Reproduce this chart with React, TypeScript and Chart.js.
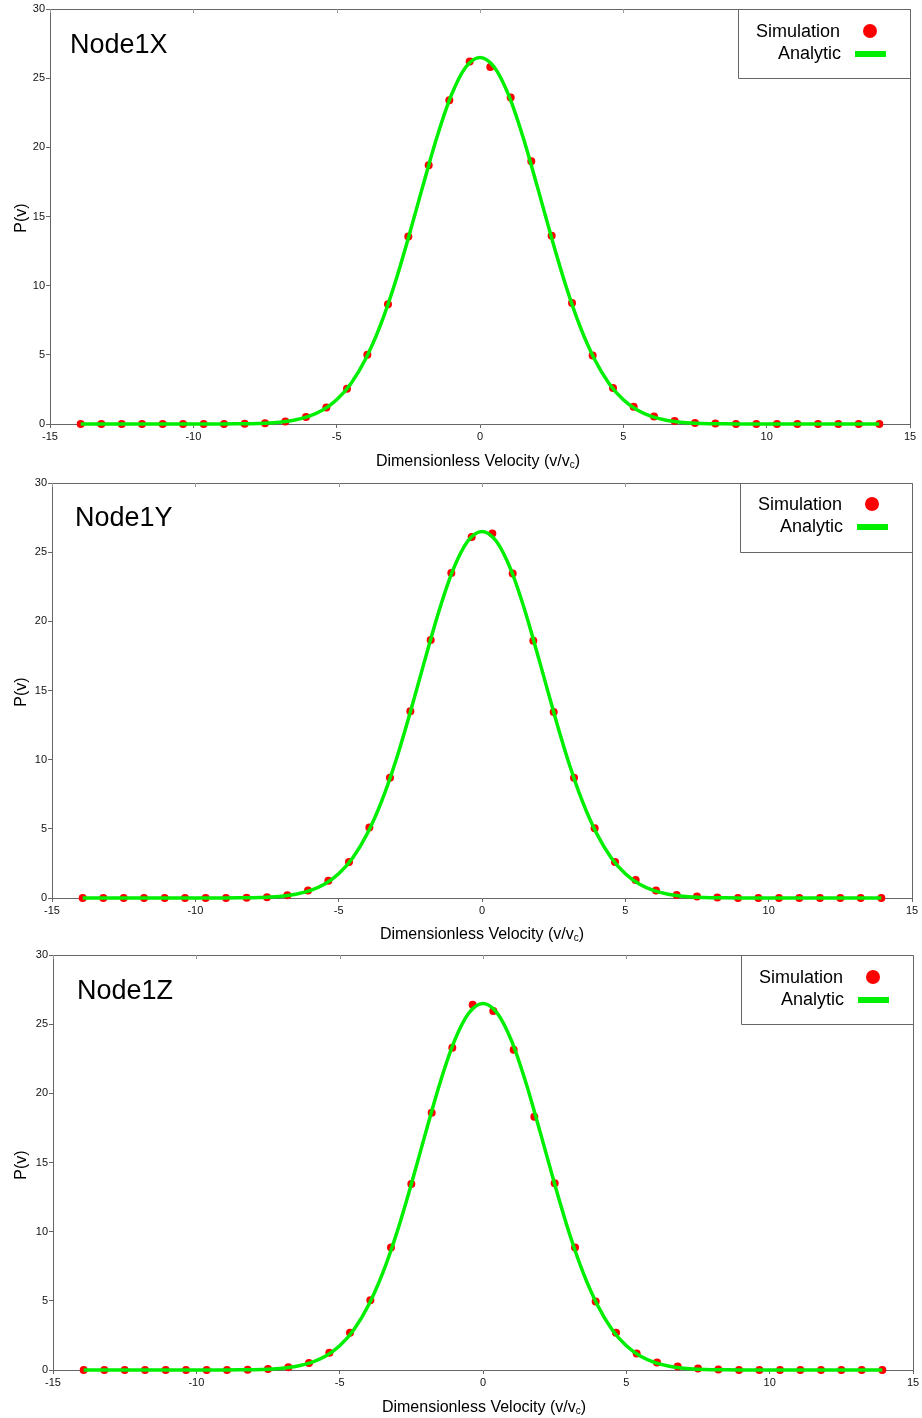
import React, { useEffect, useRef } from 'react';
import { Chart, registerables } from 'chart.js';
Chart.register(...registerables);

// ---- data ----
const simX = [-13.93, -13.21, -12.5, -11.79, -11.07, -10.36, -9.64, -8.93, -8.21, -7.5, -6.79, -6.07, -5.36, -4.64, -3.93, -3.21, -2.5, -1.79, -1.07, -0.36, 0.36, 1.07, 1.79, 2.5, 3.21, 3.93, 4.64, 5.36, 6.07, 6.79, 7.5, 8.21, 8.93, 9.64, 10.36, 11.07, 11.79, 12.5, 13.21, 13.93];

const simNode1X = [0, 0, 0, 0, 0, 0, 0, 0, 0.02, 0.06, 0.18, 0.5, 1.2, 2.55, 5.0, 8.65, 13.55, 18.7, 23.4, 26.2, 25.8, 23.6, 19.0, 13.6, 8.75, 4.95, 2.6, 1.25, 0.55, 0.22, 0.08, 0.03, 0, 0, 0, 0, 0, 0, 0, 0];
const simNode1Y = [0, 0, 0, 0, 0, 0, 0, 0, 0.02, 0.06, 0.2, 0.55, 1.25, 2.6, 5.1, 8.7, 13.5, 18.65, 23.5, 26.1, 26.35, 23.45, 18.6, 13.45, 8.7, 5.05, 2.6, 1.3, 0.55, 0.22, 0.1, 0.04, 0, 0, 0, 0, 0, 0, 0, 0];
const simNode1Z = [0, 0, 0, 0, 0, 0, 0, 0, 0.02, 0.07, 0.2, 0.5, 1.25, 2.7, 5.05, 8.85, 13.45, 18.6, 23.3, 26.4, 25.95, 23.15, 18.3, 13.5, 8.85, 4.95, 2.7, 1.2, 0.55, 0.25, 0.1, 0.04, 0, 0, 0, 0, 0, 0, 0, 0];

const anaX = [-13.93, -12, -10, -9, -8.5, -8, -7.5, -7, -6.5, -6, -5.5, -5, -4.5, -4, -3.5, -3, -2.5, -2, -1.5, -1, -0.5, 0, 0.5, 1, 1.5, 2, 2.5, 3, 3.5, 4, 4.5, 5, 5.5, 6, 6.5, 7, 7.5, 8, 8.5, 9, 10, 12, 13.93];
const anaY = [0, 0, 0, 0.004, 0.01, 0.025, 0.059, 0.13, 0.27, 0.53, 0.99, 1.75, 2.93, 4.66, 7.0, 9.96, 13.44, 17.16, 20.75, 23.77, 25.79, 26.5, 25.79, 23.77, 20.75, 17.16, 13.44, 9.96, 7.0, 4.66, 2.93, 1.75, 0.99, 0.53, 0.27, 0.13, 0.059, 0.025, 0.01, 0.004, 0, 0, 0];

const xTicks = [-15, -10, -5, 0, 5, 10, 15];
const yTicks = [0, 5, 10, 15, 20, 25, 30];

const panelNames = ['Node1X', 'Node1Y', 'Node1Z'];
const panelSims = [simNode1X, simNode1Y, simNode1Z];

// ---- layout (pixels) ----
const layouts = [
  { top: 0, height: 473, left: 50, right: 910, plotTop: 9, bottom: 424, legendLeft: 738, legendBottom: 78, titleX: 70, xTitleCx: 478, yTitleCy: 218 },
  { top: 473, height: 473, left: 52, right: 912, plotTop: 10, bottom: 425, legendLeft: 740, legendBottom: 79, titleX: 75, xTitleCx: 482, yTitleCy: 219 },
  { top: 946, height: 472, left: 53, right: 913, plotTop: 9, bottom: 424, legendLeft: 741, legendBottom: 78, titleX: 77, xTitleCx: 484, yTitleCy: 219 },
];

const FONT = '"Liberation Sans", Arial, sans-serif';
const FRAME = '#666666';
const GREEN = '#00ee00';
const RED = '#ff0000';

function Panel({ idx }: { idx: number }) {
  const ref = useRef<HTMLCanvasElement | null>(null);
  const L = layouts[idx];
  useEffect(() => {
    const canvas = ref.current!;
    const overlay = {
      id: 'overlay',
      afterDraw(chart: any) {
        const ctx = chart.ctx;
        const a = chart.chartArea;
        ctx.save();
        // top and right frame
        ctx.strokeStyle = FRAME;
        ctx.lineWidth = 1;
        ctx.beginPath();
        ctx.moveTo(Math.round(a.left) + 0.5, Math.round(a.top) + 0.5);
        ctx.lineTo(Math.round(a.right) + 0.5, Math.round(a.top) + 0.5);
        ctx.lineTo(Math.round(a.right) + 0.5, Math.round(a.bottom) + 0.5);
        ctx.stroke();
        // inward ticks on top border
        const xs = chart.scales.x;
        ctx.strokeStyle = '#999999';
        ctx.beginPath();
        for (const t of xTicks) {
          const px = Math.round(xs.getPixelForValue(t)) + 0.5;
          ctx.moveTo(px, a.top);
          ctx.lineTo(px, a.top + 4);
        }
        ctx.stroke();
        // legend box
        const lt = Math.round(a.top) + 0.5;
        const lr = Math.round(a.right) + 0.5;
        const ll = L.legendLeft + 0.5;
        const lb = L.legendBottom + 0.5;
        ctx.fillStyle = '#ffffff';
        ctx.fillRect(ll, lt, lr - ll, lb - lt);
        ctx.strokeStyle = FRAME;
        ctx.beginPath();
        ctx.moveTo(ll, lt);
        ctx.lineTo(ll, lb);
        ctx.lineTo(lr, lb);
        ctx.stroke();
        ctx.beginPath();
        ctx.moveTo(ll, lt);
        ctx.lineTo(lr, lt);
        ctx.lineTo(lr, lb);
        ctx.stroke();
        ctx.fillStyle = '#000000';
        ctx.font = '18px ' + FONT;
        ctx.textAlign = 'right';
        ctx.textBaseline = 'alphabetic';
        ctx.fillText('Simulation', L.legendLeft + 102, 37);
        ctx.fillText('Analytic', L.legendLeft + 103, 59);
        ctx.fillStyle = RED;
        ctx.beginPath();
        ctx.arc(L.legendLeft + 132, 31, 7, 0, Math.PI * 2);
        ctx.fill();
        ctx.fillStyle = GREEN;
        ctx.fillRect(L.legendLeft + 117, 51, 31, 6);
        // panel title
        ctx.fillStyle = '#000000';
        ctx.font = '27px ' + FONT;
        ctx.textAlign = 'left';
        ctx.fillText(panelNames[idx], L.titleX, 53);
        // x axis title with subscript
        const main = 'Dimensionless Velocity (v/v';
        ctx.font = '16px ' + FONT;
        const w1 = ctx.measureText(main).width;
        const w3 = ctx.measureText(')').width;
        ctx.font = '10px ' + FONT;
        const w2 = ctx.measureText('c').width;
        let x = L.xTitleCx - (w1 + w2 + w3) / 2;
        const base = 466;
        ctx.font = '16px ' + FONT;
        ctx.fillText(main, x, base);
        x += w1;
        ctx.font = '10px ' + FONT;
        ctx.fillText('c', x, base + 2);
        x += w2;
        ctx.font = '16px ' + FONT;
        ctx.fillText(')', x, base);
        // y axis title
        ctx.save();
        ctx.translate(26, L.yTitleCy);
        ctx.rotate(-Math.PI / 2);
        ctx.textAlign = 'center';
        ctx.textBaseline = 'alphabetic';
        ctx.font = '16px ' + FONT;
        ctx.fillText('P(v)', 0, 0);
        ctx.restore();
        ctx.restore();
      },
    };

    const chart = new Chart(canvas, {
      type: 'scatter',
      data: {
        datasets: [
          {
            type: 'line',
            label: 'Analytic',
            data: anaX.map((v, i) => ({ x: v, y: anaY[i] })),
            borderColor: GREEN,
            backgroundColor: GREEN,
            borderWidth: 3.5,
            pointRadius: 0,
            cubicInterpolationMode: 'monotone',
            fill: false,
            clip: false as any,
            order: 0,
          } as any,
          {
            type: 'scatter',
            label: 'Simulation',
            data: simX.map((v, i) => ({ x: v, y: panelSims[idx][i] })),
            backgroundColor: RED,
            borderColor: RED,
            borderWidth: 0,
            pointRadius: 4,
            clip: false as any,
            order: 1,
          } as any,
        ],
      },
      options: {
        animation: false,
        responsive: false,
        events: [],
        layout: { padding: { left: 0, top: L.plotTop, right: 922 - L.right, bottom: 0 } },
        plugins: { legend: { display: false }, tooltip: { enabled: false }, title: { display: false } },
        scales: {
          x: {
            type: 'linear',
            min: -15,
            max: 15,
            afterBuildTicks: (s: any) => { s.ticks = xTicks.map((v) => ({ value: v })); },
            afterFit: (s: any) => { s.height = L.height - L.bottom; s.paddingLeft = 0; s.paddingRight = 0; },
            ticks: { font: { family: FONT, size: 11 }, color: '#111111', padding: 2, maxRotation: 0, autoSkip: false },
            grid: { display: true, drawOnChartArea: false, drawTicks: true, tickLength: 4, color: FRAME, lineWidth: 1 },
            border: { display: true, color: FRAME, width: 1 },
          },
          y: {
            type: 'linear',
            min: 0,
            max: 30,
            afterBuildTicks: (s: any) => { s.ticks = yTicks.map((v) => ({ value: v })); },
            afterFit: (s: any) => { s.width = L.left; s.paddingTop = 0; s.paddingBottom = 0; },
            ticks: { font: { family: FONT, size: 11 }, color: '#111111', padding: 1, autoSkip: false },
            grid: { display: true, drawOnChartArea: false, drawTicks: true, tickLength: 4, color: FRAME, lineWidth: 1 },
            border: { display: true, color: FRAME, width: 1 },
          },
        },
      },
      plugins: [overlay],
    } as any);
    return () => chart.destroy();
  }, [idx]);
  return (
    <canvas
      ref={ref}
      width={922}
      height={L.height}
      style={{ position: 'absolute', left: 0, top: L.top, width: 922, height: L.height, display: 'block' }}
    />
  );
}

export default function App() {
  return (
    <div style={{ position: 'absolute', left: 0, top: 0, width: 922, height: 1418, background: '#ffffff' }}>
      <Panel idx={0} />
      <Panel idx={1} />
      <Panel idx={2} />
    </div>
  );
}
